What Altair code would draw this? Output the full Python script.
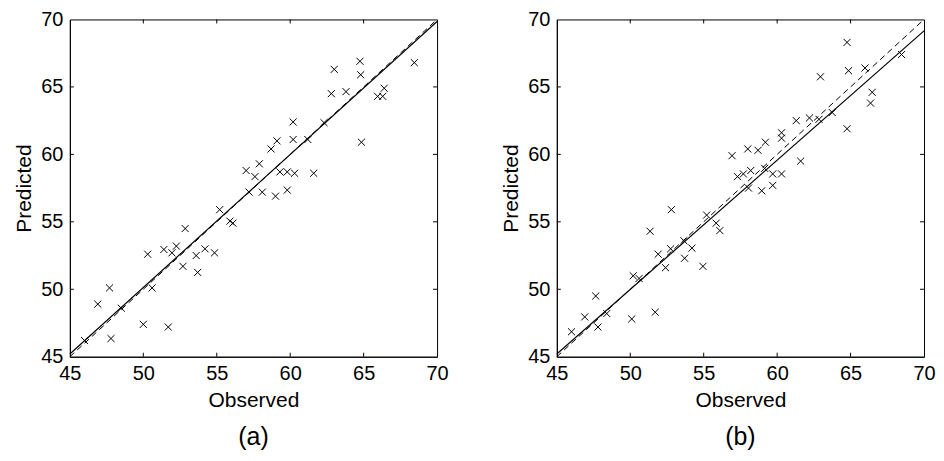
import altair as alt
import pandas as pd

FONT = "Liberation Sans"

# Panel (a) observed / predicted
obs_a = [46.0, 46.9, 47.7, 47.8, 48.5, 50.0, 50.6, 51.7, 50.3, 51.4, 51.95, 52.25,
         52.7, 53.7, 53.6, 52.85, 54.2, 54.85, 55.2, 55.9, 56.1, 57.2, 58.1, 57.0,
         57.6, 57.9, 59.0, 59.8, 59.3, 59.8, 60.3, 61.6, 58.7, 59.1, 60.2, 61.2,
         64.85, 60.2, 62.3, 62.8, 63.8, 65.95, 66.3, 66.4, 63.0, 64.75, 64.8, 68.45]
pred_a = [46.2, 48.9, 50.1, 46.35, 48.6, 47.4, 50.1, 47.2, 52.6, 52.95, 52.7, 53.2,
          51.7, 51.25, 52.5, 54.5, 53.0, 52.7, 55.9, 55.05, 54.9, 57.2, 57.2, 58.8,
          58.35, 59.3, 56.9, 57.35, 58.7, 58.7, 58.6, 58.6, 60.4, 61.0, 61.1, 61.1,
          60.9, 62.4, 62.35, 64.5, 64.65, 64.3, 64.3, 64.9, 66.3, 66.9, 65.9, 66.8]

# Panel (b) observed / predicted
obs_b = [46.0, 46.9, 47.8, 47.65, 48.4, 50.1, 50.2, 50.6, 51.7, 51.35, 51.9, 52.4,
         52.75, 52.8, 53.65, 53.7, 54.2, 54.95, 55.2, 55.85, 56.1, 56.93, 57.3, 57.7,
         58.2, 58.05, 58.95, 59.15, 59.7, 60.3, 59.7, 61.6, 58.0, 58.7, 59.2, 60.3,
         60.3, 61.3, 62.2, 62.85, 63.75, 64.76, 62.95, 64.86, 65.98, 64.76, 66.47,
         66.36, 68.47]
pred_b = [46.85, 47.95, 47.2, 49.5, 48.2, 47.8, 51.0, 50.8, 48.3, 54.3, 52.6, 51.6,
          53.0, 55.9, 53.6, 52.3, 53.05, 51.7, 55.5, 54.9, 54.35, 59.9, 58.35, 58.55,
          58.8, 57.5, 57.3, 58.96, 58.55, 58.55, 57.7, 59.5, 60.4, 60.3, 60.9, 61.6,
          61.2, 62.5, 62.7, 62.6, 63.1, 61.9, 65.75, 66.2, 66.4, 68.3, 64.6, 63.8, 67.4]

# Line end points (regression fit and 1:1 line)
line_x = [45, 70]
fit_a = [45.2, 69.85]
fit_b = [45.2, 69.15]
ident_y = [45, 70]

axis_values = [45, 50, 55, 60, 65, 70]
inner_ticks = [50, 55, 60, 65]

W, H = 368, 338
TICK = 4


def make_axis(title):
    return alt.Axis(values=axis_values, ticks=False, grid=False, format="d",
                    labelFontSize=20, titleFontSize=21, labelFont=FONT, titleFont=FONT,
                    labelColor="black", titleColor="black", domainColor="black",
                    titleFontWeight="normal", labelPadding=7, titlePadding=6,
                    title=title, labelFlush=False)


def panel(obs, pred, fit, label):
    xs = alt.Scale(domain=[45, 70], nice=False, zero=False)
    ys = alt.Scale(domain=[45, 70], nice=False, zero=False)
    pts = pd.DataFrame({"Observed": obs, "Predicted": pred})
    points = alt.Chart(pts).mark_point(
        shape="M-1,-1L1,1M-1,1L1,-1", filled=False, color="black", size=50,
        strokeWidth=1, opacity=1
    ).encode(
        x=alt.X("Observed:Q", scale=xs, axis=make_axis("Observed")),
        y=alt.Y("Predicted:Q", scale=ys, axis=make_axis("Predicted")),
    )
    fit_df = pd.DataFrame({"Observed": line_x, "Predicted": fit})
    id_df = pd.DataFrame({"Observed": line_x, "Predicted": ident_y})
    fit_line = alt.Chart(fit_df).mark_line(color="black", strokeWidth=1.2).encode(
        x=alt.X("Observed:Q", scale=xs), y=alt.Y("Predicted:Q", scale=ys))
    id_line = alt.Chart(id_df).mark_line(color="black", strokeWidth=1, strokeDash=[6, 4]).encode(
        x=alt.X("Observed:Q", scale=xs), y=alt.Y("Predicted:Q", scale=ys))
    tdf = pd.DataFrame({"Observed": inner_ticks, "Predicted": inner_ticks})
    tb = alt.Chart(tdf).mark_rule(color="black").encode(
        x=alt.X("Observed:Q", scale=xs), y=alt.value(H), y2=alt.value(H - TICK))
    tt = alt.Chart(tdf).mark_rule(color="black").encode(
        x=alt.X("Observed:Q", scale=xs), y=alt.value(0), y2=alt.value(TICK))
    tl = alt.Chart(tdf).mark_rule(color="black").encode(
        y=alt.Y("Predicted:Q", scale=ys), x=alt.value(0), x2=alt.value(TICK))
    tr = alt.Chart(tdf).mark_rule(color="black").encode(
        y=alt.Y("Predicted:Q", scale=ys), x=alt.value(W), x2=alt.value(W - TICK))
    return alt.layer(points, fit_line, id_line, tb, tt, tl, tr).properties(
        width=W, height=H,
        title=alt.TitleParams(label, orient="bottom", fontSize=25, font=FONT,
                              fontWeight="normal", color="black", offset=14,
                              anchor="middle", frame="group"),
    )


chart = alt.hconcat(
    panel(obs_a, pred_a, fit_a, "(a)"),
    panel(obs_b, pred_b, fit_b, "(b)"),
    spacing=51,
).properties(
    padding={"left": 5, "top": 0, "right": 0, "bottom": 0},
    background="white",
).configure_view(stroke="black", strokeWidth=1)

chart.save("out.html", embed_options={"renderer": "svg", "actions": False})
